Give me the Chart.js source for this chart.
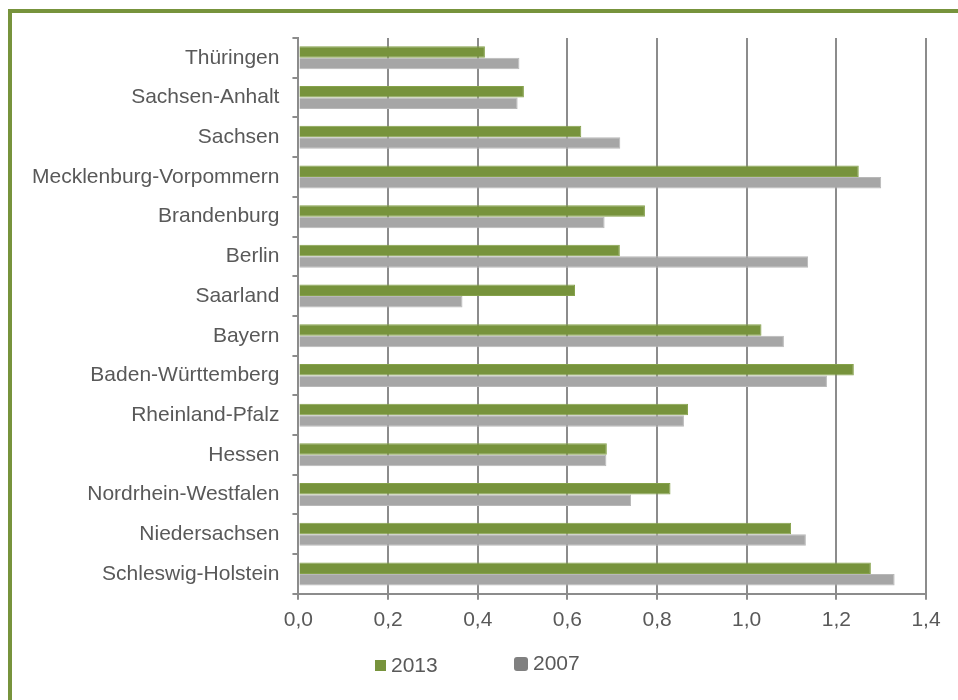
<!DOCTYPE html>
<html>
<head>
<meta charset="utf-8">
<script src="https://cdn.jsdelivr.net/npm/chart.js@4.4.0/dist/chart.umd.min.js"></script>
<style>
  html, body { margin: 0; padding: 0; background: #fff; overflow: hidden; }
  #frame {
    position: absolute; left: 8px; top: 9px; width: 1000px; height: 800px;
    border-left: 4px solid #77933c; border-top: 4px solid #77933c;
  }
  #bar-chart { position: absolute; left: 0; top: 0; }
</style>
</head>
<body>
<div id="frame"></div>
<canvas id="bar-chart" width="958" height="700"></canvas>
<script>
// Bundesländer, top to bottom
const states = [
  "Thüringen", "Sachsen-Anhalt", "Sachsen", "Mecklenburg-Vorpommern",
  "Brandenburg", "Berlin", "Saarland", "Bayern", "Baden-Württemberg",
  "Rheinland-Pfalz", "Hessen", "Nordrhein-Westfalen", "Niedersachsen",
  "Schleswig-Holstein",
];
const values2013 = [0.416, 0.503, 0.631, 1.250, 0.773, 0.717, 0.617, 1.033, 1.239, 0.869, 0.688, 0.830, 1.099, 1.277];
const values2007 = [0.493, 0.489, 0.718, 1.300, 0.683, 1.137, 0.366, 1.083, 1.179, 0.860, 0.687, 0.742, 1.132, 1.330];
const seriesLabels = ["2013", "2007"];

// x axis range and tick step
const xMin = 0;
const xMax = 1.4;
const xStep = 0.2;

const textColor = "#595959";
const axisColor = "#8c8c8c";
const fontFamily = "'Liberation Sans', Arial, sans-serif";

// legend drawn under the axis: small square for 2013, rounded box for 2007
const bottomLegend = {
  id: "bottomLegend",
  afterDraw(chart, args, opts) {
    const ctx = chart.ctx;
    ctx.save();
    ctx.font = "21px " + fontFamily;
    ctx.textBaseline = "middle";
    ctx.textAlign = "left";
    opts.items.forEach((item, i) => {
      const ds = chart.data.datasets[i];
      ctx.fillStyle = item.markerColor || ds.backgroundColor;
      ctx.beginPath();
      if (item.radius) {
        ctx.roundRect(item.x, item.y, item.size, item.size, item.radius);
      } else {
        ctx.rect(item.x, item.y, item.size, item.size);
      }
      ctx.fill();
      ctx.fillStyle = textColor;
      ctx.fillText(ds.label, item.textX, item.textY);
    });
    ctx.restore();
  },
};

new Chart(document.getElementById("bar-chart"), {
  type: "bar",
  data: {
    labels: states,
    datasets: [
      {
        label: seriesLabels[0],
        data: values2013,
        backgroundColor: "#77933c",
        borderColor: "#86a24b",
        borderWidth: 1,
      },
      {
        label: seriesLabels[1],
        data: values2007,
        backgroundColor: "#a6a6a6",
        borderColor: "#b8b8b8",
        borderWidth: 1,
      },
    ],
  },
  options: {
    indexAxis: "y",
    responsive: false,
    animation: false,
    datasets: {
      bar: { barPercentage: 1, categoryPercentage: 0.58 },
    },
    layout: {
      padding: { left: 19, right: 32, top: 38, bottom: 59 },
    },
    plugins: {
      legend: { display: false },
      tooltip: { enabled: false },
      bottomLegend: {
        items: [
          { x: 375, y: 660, size: 11, textX: 391, textY: 666 },
          { x: 514, y: 657, size: 14, radius: 3, markerColor: "#808080", textX: 533, textY: 664 },
        ],
      },
    },
    scales: {
      x: {
        min: xMin,
        max: xMax,
        ticks: {
          stepSize: xStep,
          color: textColor,
          font: { family: fontFamily, size: 21 },
          padding: 8,
          callback: (v) => v.toFixed(1).replace(".", ","),
        },
        grid: { color: axisColor, lineWidth: 2, tickLength: 6 },
        border: { color: axisColor, width: 2 },
      },
      y: {
        ticks: {
          color: textColor,
          font: { family: fontFamily, size: 21 },
          padding: 13,
        },
        grid: {
          drawOnChartArea: false,
          color: axisColor,
          lineWidth: 2,
          tickLength: 6,
        },
        border: { color: axisColor, width: 2 },
      },
    },
  },
  plugins: [bottomLegend],
});
</script>
</body>
</html>
